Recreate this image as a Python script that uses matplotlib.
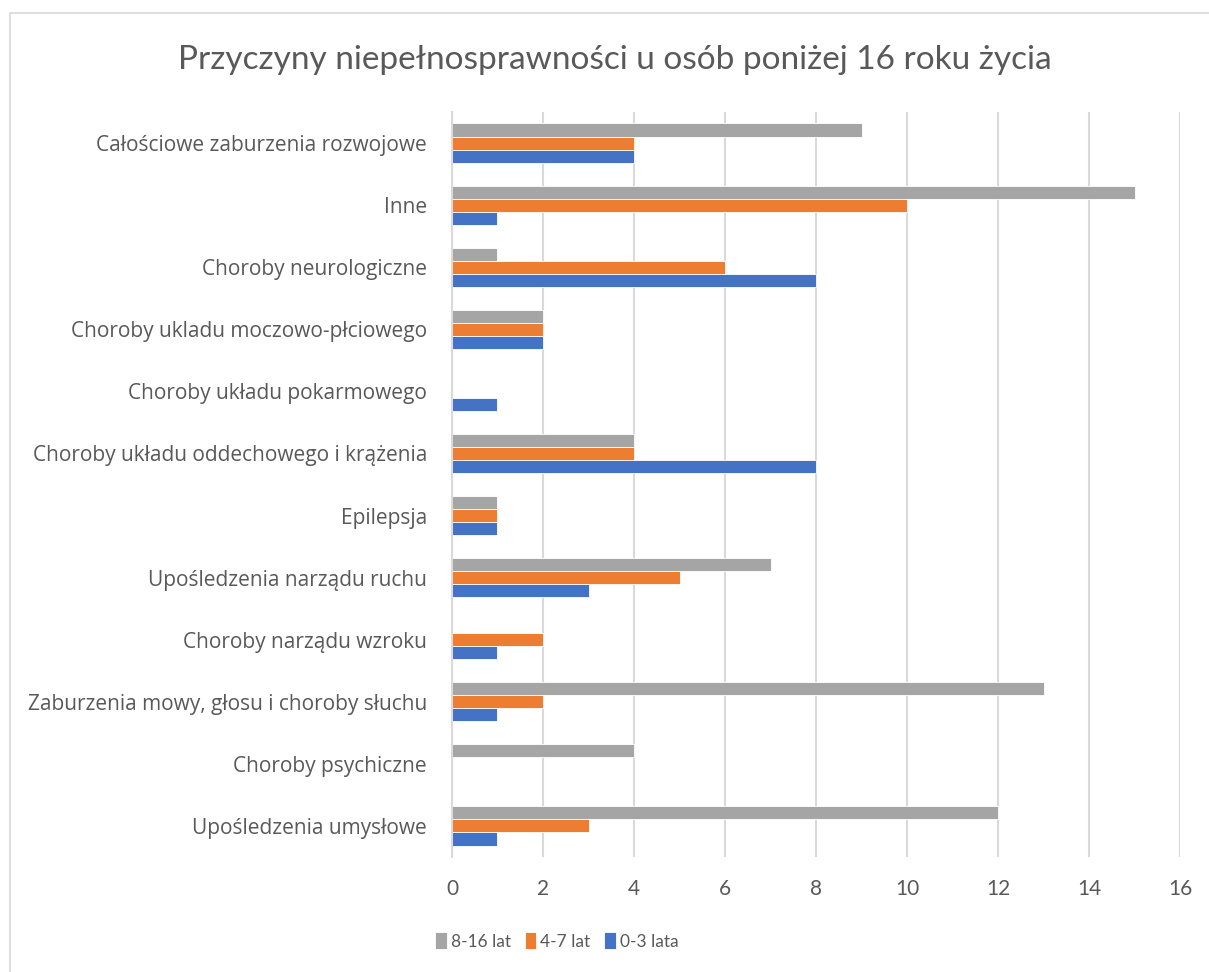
import numpy as np
import matplotlib.pyplot as plt
from matplotlib.patches import Rectangle

# Categories, bottom to top
categories = [
    'Upośledzenia umysłowe',
    'Choroby psychiczne',
    'Zaburzenia mowy, głosu i choroby słuchu',
    'Choroby narządu wzroku',
    'Upośledzenia narządu ruchu',
    'Epilepsja',
    'Choroby układu oddechowego i krążenia',
    'Choroby układu pokarmowego',
    'Choroby ukladu moczowo-płciowego',
    'Choroby neurologiczne',
    'Inne',
    'Całościowe zaburzenia rozwojowe',
]

# Counts per age group
age_0_3 = [1, 0, 1, 1, 3, 1, 8, 1, 2, 8, 1, 4]
age_4_7 = [3, 0, 2, 2, 5, 1, 4, 0, 2, 6, 10, 4]
age_8_16 = [12, 4, 13, 0, 7, 1, 4, 0, 2, 1, 15, 9]

series_labels = ['0-3 lata', '4-7 lat', '8-16 lat']
colors = ['#4472C4', '#ED7D31', '#A5A5A5']
text_color = '#595959'

W, H = 1209, 972
fig = plt.figure(figsize=(W / 100, H / 100), dpi=100)

# chart frame (left and top edges visible)
fig.patches.append(Rectangle((10 / W, -0.1), 1.2, (H - 13) / H + 0.1,
                             transform=fig.transFigure, fill=False,
                             edgecolor='#D9D9D9', linewidth=1.2))

ax = fig.add_axes([452 / W, (H - 857) / H, (1180 - 452) / W, (857 - 112) / H])

y = np.arange(len(categories))
h = 0.21
bars = []
for i, (vals, lab, col) in enumerate(zip([age_0_3, age_4_7, age_8_16], series_labels, colors)):
    b = ax.barh(y + (i - 1) * h, vals, height=h, color=col, label=lab,
                edgecolor='white', linewidth=0.6, zorder=3)
    bars.append(b)

ax.set_xlim(0, 16)
ax.set_ylim(-0.5, len(categories) - 0.5)
ax.set_xticks(np.arange(0, 17, 2))
ax.set_yticks(y)
ax.set_yticklabels(categories, fontsize=15, color=text_color, family='Open Sans')
ax.tick_params(axis='y', length=0, pad=18)
ax.tick_params(axis='x', length=0, pad=16, labelsize=15, labelcolor=text_color)
for t in ax.get_xticklabels():
    t.set_family('Lato')

ax.grid(axis='x', color='#D9D9D9', linewidth=1.5, zorder=0)
for s in ['top', 'right', 'bottom']:
    ax.spines[s].set_visible(False)
ax.spines['left'].set_color('#D9D9D9')
ax.spines['left'].set_linewidth(1.5)
ax.spines['left'].set_zorder(4)

fig.text(615 / W, (H - 60) / H, 'Przyczyny niepełnosprawności u osób poniżej 16 roku życia',
         ha='center', va='center', fontsize=24, color=text_color, family='Lato')

handles = [bars[2], bars[1], bars[0]]
labels = [series_labels[2], series_labels[1], series_labels[0]]
fig.legend(handles, labels, loc='center', bbox_to_anchor=(557 / W, (H - 941) / H),
           ncol=3, frameon=False, handlelength=0.65, handleheight=1.1,
           handletextpad=0.25, columnspacing=0.8,
           prop={'family': 'Lato', 'size': 12.5},
           labelcolor=text_color)

fig.savefig('out.png', dpi=100)
